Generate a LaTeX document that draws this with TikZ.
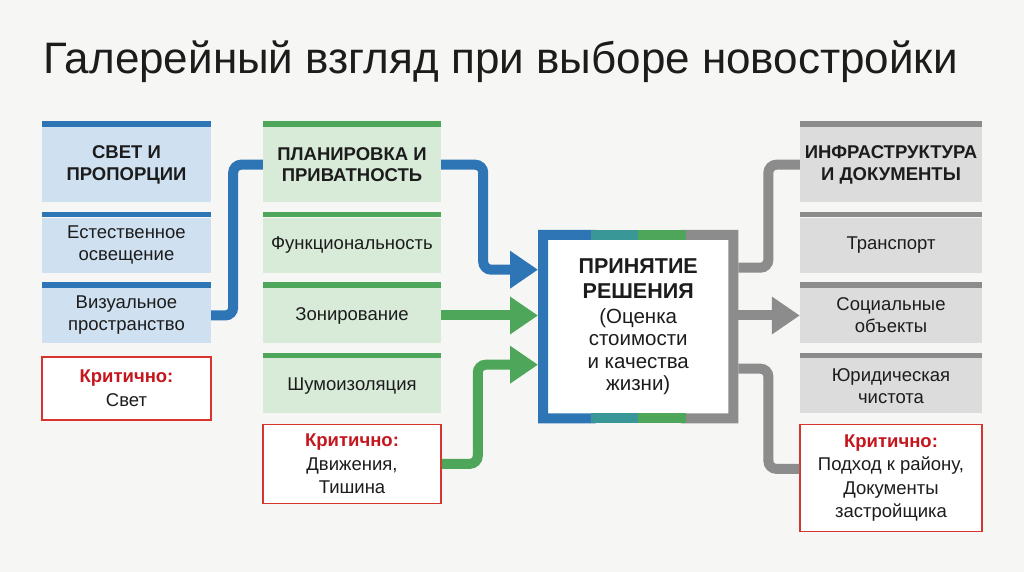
\documentclass[tikz,border=0pt]{standalone}
\usepackage{fontspec}
\setmainfont{Liberation Sans}
\usetikzlibrary{positioning, calc, arrows.meta}
\definecolor{bgcolor}{HTML}{F6F6F4}
\definecolor{ink}{HTML}{1C1C1C}
\definecolor{bcolor}{HTML}{2E75B6}
\definecolor{bfill}{HTML}{CFE1F1}
\definecolor{gcolor}{HTML}{4DA65A}
\definecolor{gfill}{HTML}{D8EBD8}
\definecolor{kcolor}{HTML}{8C8C8C}
\definecolor{kfill}{HTML}{DCDCDC}
\definecolor{tcolor}{HTML}{3A9797}
\definecolor{rcolor}{HTML}{D6342C}
\definecolor{rtext}{HTML}{C4161C}

\begin{document}
\begin{tikzpicture}[x=1bp, y=1bp,
    cell/.style={rectangle, inner sep=2bp, minimum height=55bp, align=center, text=ink, font=\fontsize{18.5bp}{22bp}\selectfont},
    head/.style={cell, minimum height=75bp, font=\fontsize{18.5bp}{21.5bp}\selectfont\bfseries},
    crit/.style={cell, draw=rcolor, line width=1.5bp, fill=white, font=\fontsize{18.5bp}{23.5bp}\selectfont},
    conn/.style={line width=10bp, rounded corners=8bp},
    arr/.style={conn, -{Triangle[length=28bp, width=36bp]}},
    rim/.style={line width=10bp},
  ]
    \fill[bgcolor] (0,0) rectangle (1024,-572);
    \useasboundingbox (0,0) rectangle (1024,-572);

    \node[anchor=west, text=ink, font=\fontsize{44bp}{48bp}\selectfont] (title) at (40,-62) {Галерейный взгляд при выборе новостройки};

    % left column
    \node[head, fill=bfill, minimum width=169bp, anchor=north] (sv0) at (126.5,-127) {СВЕТ И\\ПРОПОРЦИИ};
    \node[cell, fill=bfill, minimum width=169bp, below=15bp of sv0] (sv1) {Естественное\\освещение};
    \node[cell, fill=bfill, minimum width=169bp, below=15bp of sv1] (sv2) {Визуальное\\пространство};
    \node[crit, minimum width=169bp, minimum height=63bp, below=13bp of sv2] (svc) {\textcolor{rtext}{\bfseries Критично:}\\Свет};

    % middle column
    \node[head, fill=gfill, minimum width=178bp, anchor=north] (pl0) at (352,-127) {ПЛАНИРОВКА И\\ПРИВАТНОСТЬ};
    \node[cell, fill=gfill, minimum width=178bp, below=15bp of pl0] (pl1) {Функциональность};
    \node[cell, fill=gfill, minimum width=178bp, below=15bp of pl1] (pl2) {Зонирование};
    \node[cell, fill=gfill, minimum width=178bp, below=15bp of pl2] (pl3) {Шумоизоляция};
    \node[crit, minimum width=178bp, minimum height=79bp, below=10bp of pl3] (plc) {\textcolor{rtext}{\bfseries Критично:}\\Движения,\\Тишина};

    % right column
    \node[head, fill=kfill, minimum width=182bp, anchor=north] (in0) at (891,-127) {ИНФРАСТРУКТУРА\\И ДОКУМЕНТЫ};
    \node[cell, fill=kfill, minimum width=182bp, below=15bp of in0] (in1) {Транспорт};
    \node[cell, fill=kfill, minimum width=182bp, below=15bp of in1] (in2) {Социальные\\объекты};
    \node[cell, fill=kfill, minimum width=182bp, below=15bp of in2] (in3) {Юридическая\\чистота};
    \node[crit, minimum width=182bp, minimum height=107bp, below=10bp of in3] (inc) {\textcolor{rtext}{\bfseries Критично:}\\Подход к району,\\Документы\\застройщика};

    % colour bars on top of the cells
    \foreach \n in {sv0,sv1,sv2} \fill[bcolor] (\n.north west) rectangle ($(\n.north east)+(0,5.5)$);
    \foreach \n in {pl0,pl1,pl2,pl3} \fill[gcolor] (\n.north west) rectangle ($(\n.north east)+(0,5.5)$);
    \foreach \n in {in0,in1,in2,in3} \fill[kcolor] (\n.north west) rectangle ($(\n.north east)+(0,5.5)$);

    % decision box
    \node[cell, fill=white, minimum width=200bp, minimum height=193bp, anchor=north west,
          font=\fontsize{20.5bp}{22.5bp}\selectfont] (dec) at (538,-230)
      {{\fontsize{21.5bp}{22.5bp}\selectfont\bfseries ПРИНЯТИЕ}\\[3bp]{\fontsize{21.5bp}{22.5bp}\selectfont\bfseries РЕШЕНИЯ}\\[2bp]
       (Оценка\\стоимости\\и качества\\жизни)};
    \coordinate (dnw) at ($(dec.north west)+(5,-5)$);
    \coordinate (dne) at ($(dec.north east)+(-5,-5)$);
    \coordinate (dsw) at ($(dec.south west)+(5,5)$);
    \coordinate (dse) at ($(dec.south east)+(-5,5)$);
    \draw[rim, bcolor, line cap=rect] ($(dnw)!0.25!(dne)$) -- (dnw) -- (dsw) -- ($(dsw)!0.25!(dse)$);
    \draw[rim, kcolor, line cap=rect] ($(dnw)!0.75!(dne)$) -- (dne) -- (dse) -- ($(dsw)!0.75!(dse)$);
    \draw[rim, tcolor] ($(dnw)!0.25!(dne)$) -- ($(dnw)!0.5!(dne)$) ($(dsw)!0.25!(dse)$) -- ($(dsw)!0.5!(dse)$);
    \draw[rim, gcolor] ($(dnw)!0.5!(dne)$) -- ($(dnw)!0.75!(dne)$) ($(dsw)!0.5!(dse)$) -- ($(dsw)!0.75!(dse)$);

    % connectors
    \draw[conn, bcolor] (sv2.east) -- ++(22,0) |- (pl0.west);
    \draw[arr, bcolor] (pl0.east) -- ++(42,0) |- ($(dec.west)+(0,57)$);
    \draw[arr, gcolor] (pl2.east) -- (pl2.east -| dec.west);
    \draw[arr, gcolor] (plc.east) -- ++(36,0) |- ($(dec.west)+(0,-38)$);
    \draw[conn, kcolor] ($(dec.east)+(0,59)$) -- ++(30,0) |- (in0.west);
    \draw[arr, kcolor] (dec.east |- in2.west) -- (in2.west);
    \draw[conn, kcolor] ($(dec.east)+(0,-42)$) -- ++(30,0) |- ($(inc.west)+(0,9)$);
  \end{tikzpicture}
\end{document}
